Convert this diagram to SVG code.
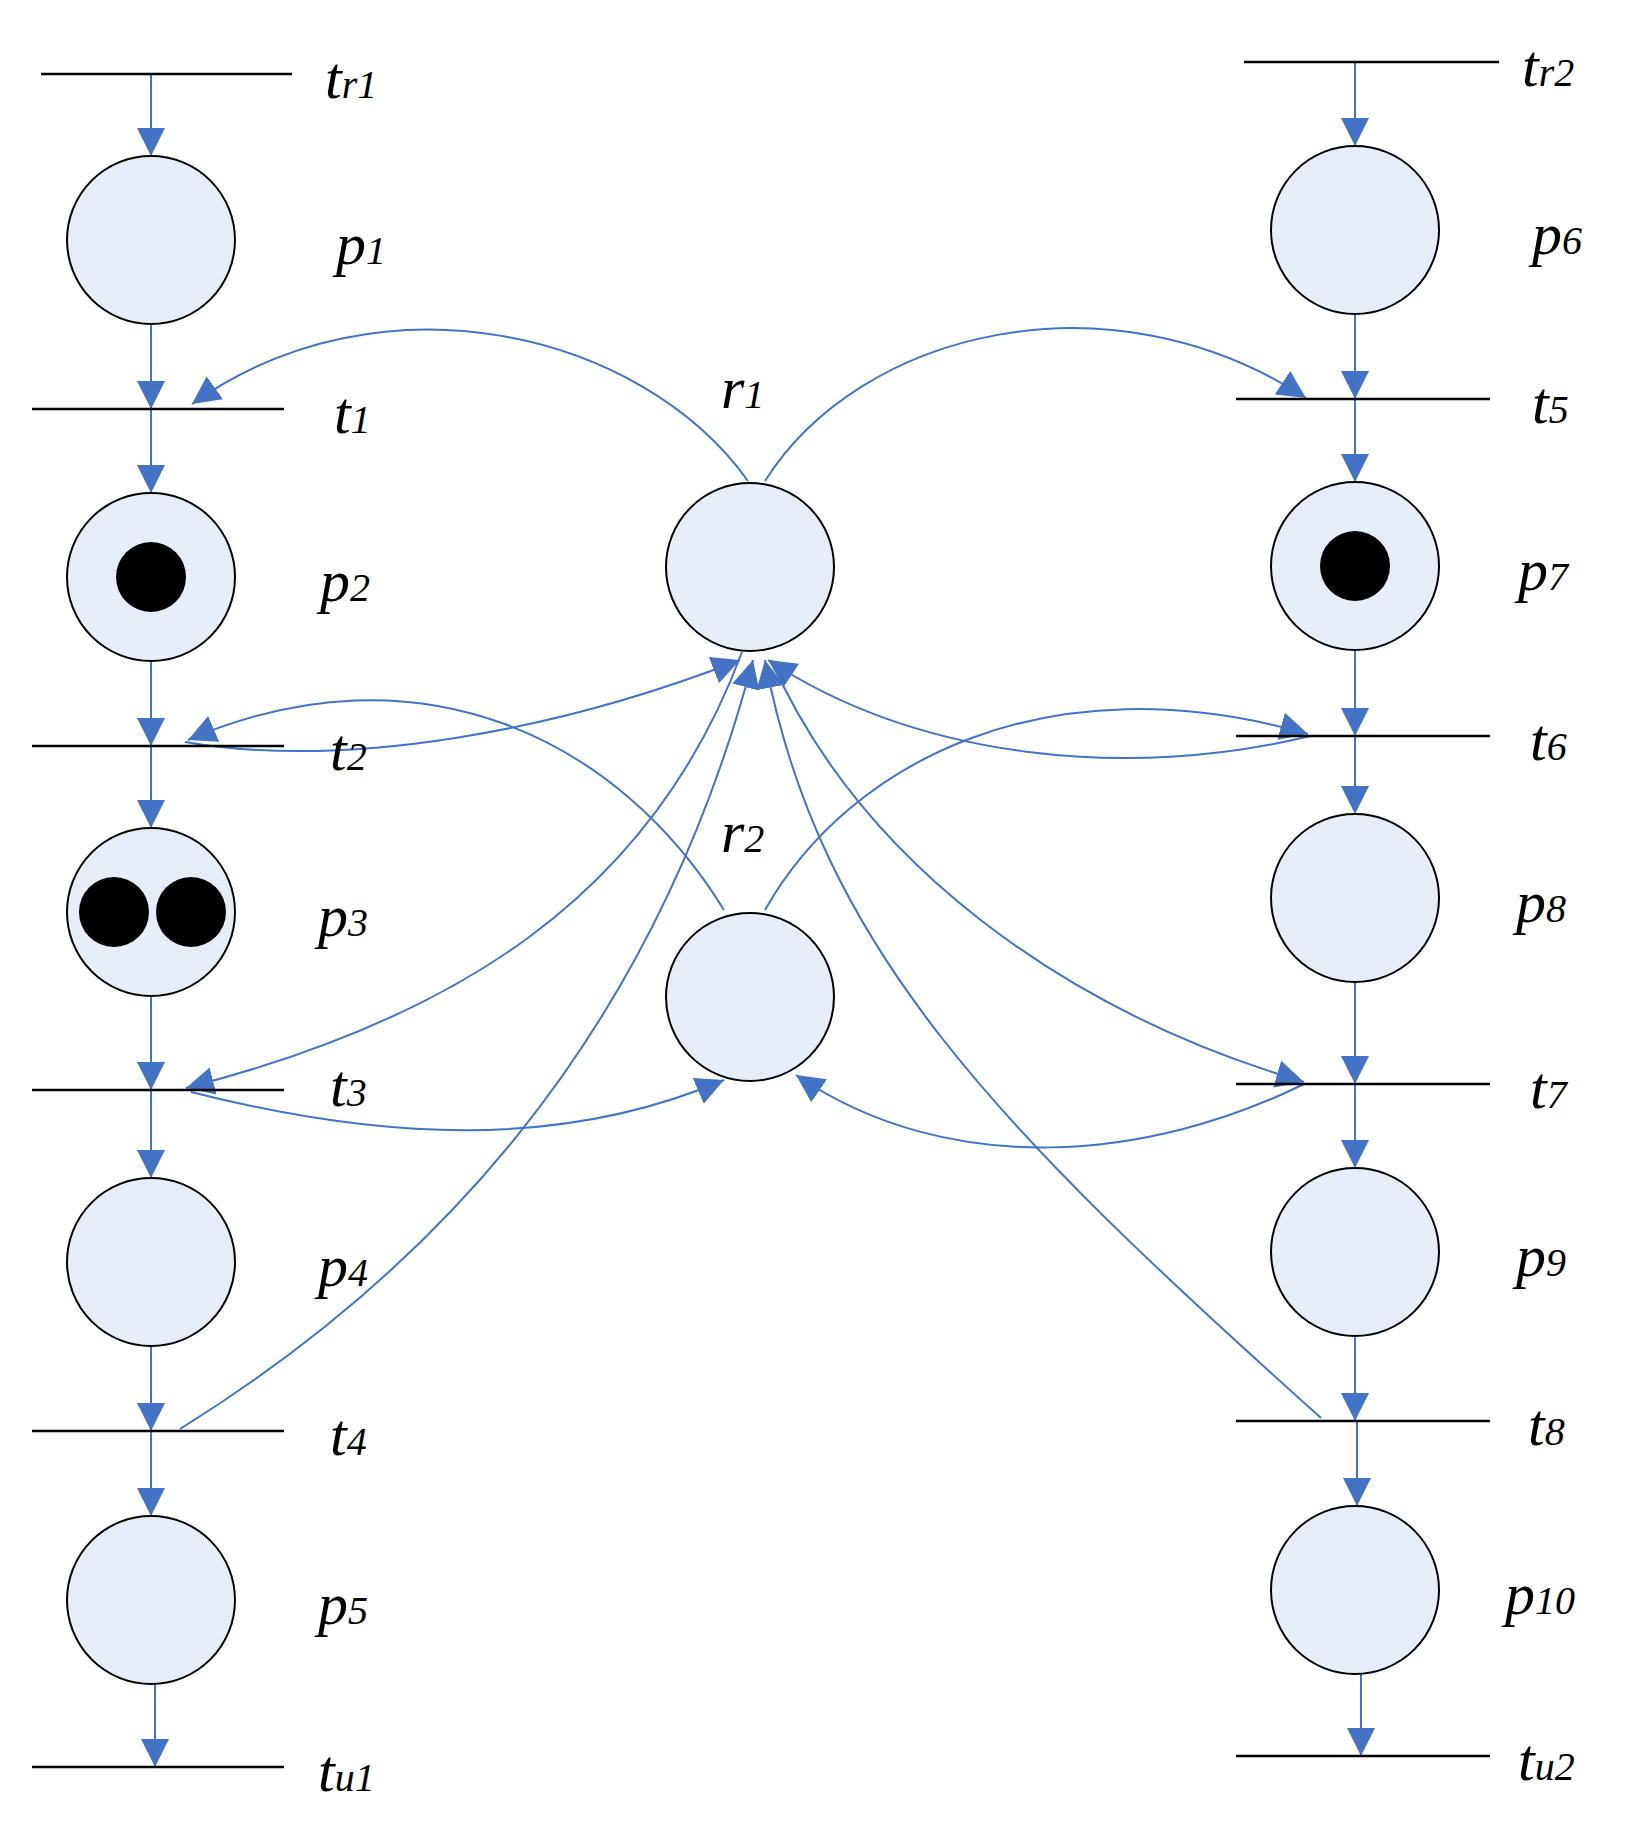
<svg xmlns="http://www.w3.org/2000/svg" width="1637" height="1826" viewBox="0 0 1637 1826">
<style>
.pl{fill:#E6EDF7;stroke:#000;stroke-width:2}
.tr{stroke:#000;stroke-width:2.5}
.tk{fill:#000}
.ar{fill:none;stroke:#4472C4;stroke-width:2;marker-end:url(#ah)}
.lb{font-family:"Liberation Serif",serif;font-style:italic;font-size:60px;fill:#000}
.sb{font-size:40px}
</style>
<defs>
<marker id="ah" viewBox="0 0 28 28" refX="28" refY="14" markerWidth="28" markerHeight="30" markerUnits="userSpaceOnUse" orient="auto">
<path d="M0,0 L28,14 L0,28 z" fill="#4472C4"/>
</marker>
</defs>
<rect width="1637" height="1826" fill="#fff"/>
<g id="connectors">
<path class="ar" d="M151,74 V156"/>
<path class="ar" d="M151,324 V409"/>
<path class="ar" d="M151,409 V493"/>
<path class="ar" d="M151,661 V746"/>
<path class="ar" d="M151,746 V828"/>
<path class="ar" d="M151,996 V1090"/>
<path class="ar" d="M151,1090 V1178"/>
<path class="ar" d="M151,1346 V1431"/>
<path class="ar" d="M151,1431 V1516"/>
<path class="ar" d="M155,1684 V1767"/>
<path class="ar" d="M1355,62 V146"/>
<path class="ar" d="M1355,314 V399"/>
<path class="ar" d="M1355,399 V482"/>
<path class="ar" d="M1355,650 V736"/>
<path class="ar" d="M1355,736 V814"/>
<path class="ar" d="M1355,982 V1084"/>
<path class="ar" d="M1355,1084 V1168"/>
<path class="ar" d="M1355,1336 V1421"/>
<path class="ar" d="M1357,1421 V1506"/>
<path class="ar" d="M1361,1674 V1756"/>
<path class="ar" d="M748,481 C640,330 380,270 192,404"/>
<path class="ar" d="M765,481 C860,330 1110,270 1306,398"/>
<path class="ar" d="M185,742 C350,770 560,730 740,660"/>
<path class="ar" d="M724,910 C620,740 420,640 188,740"/>
<path class="ar" d="M765,910 C850,760 1050,660 1308,734"/>
<path class="ar" d="M1310,736 C1130,780 920,760 768,660"/>
<path class="ar" d="M742,652 C650,900 450,1020 186,1088"/>
<path class="ar" d="M191,1092 C380,1140 560,1150 724,1080"/>
<path class="ar" d="M180,1429 C420,1280 650,1050 753,660"/>
<path class="ar" d="M1321,1418 C1000,1130 820,950 765,660"/>
<path class="ar" d="M771,660 C860,860 1060,1010 1304,1082"/>
<path class="ar" d="M1304,1084 C1150,1160 950,1180 796,1075"/>
</g>
<g id="tr1"><line class="tr" x1="41" y1="74" x2="292" y2="74"/><text class="lb" x="325" y="98">t<tspan class="sb">r1</tspan></text></g>
<g id="p1"><circle class="pl" cx="151" cy="240" r="84"/><text class="lb" x="336" y="264">p<tspan class="sb">1</tspan></text></g>
<g id="t1"><line class="tr" x1="32" y1="409" x2="284" y2="409"/><text class="lb" x="334" y="433">t<tspan class="sb">1</tspan></text></g>
<g id="p2"><circle class="pl" cx="151" cy="577" r="84"/><circle class="tk" cx="151" cy="577" r="35"/><text class="lb" x="320" y="601">p<tspan class="sb">2</tspan></text></g>
<g id="t2"><line class="tr" x1="32" y1="746" x2="284" y2="746"/><text class="lb" x="330" y="770">t<tspan class="sb">2</tspan></text></g>
<g id="p3"><circle class="pl" cx="151" cy="912" r="84"/><circle class="tk" cx="114" cy="912" r="35"/><circle class="tk" cx="191" cy="912" r="35"/><text class="lb" x="318" y="936">p<tspan class="sb">3</tspan></text></g>
<g id="t3"><line class="tr" x1="32" y1="1090" x2="284" y2="1090"/><text class="lb" x="330" y="1106">t<tspan class="sb">3</tspan></text></g>
<g id="p4"><circle class="pl" cx="151" cy="1262" r="84"/><text class="lb" x="318" y="1286">p<tspan class="sb">4</tspan></text></g>
<g id="t4"><line class="tr" x1="32" y1="1431" x2="284" y2="1431"/><text class="lb" x="330" y="1455">t<tspan class="sb">4</tspan></text></g>
<g id="p5"><circle class="pl" cx="151" cy="1600" r="84"/><text class="lb" x="318" y="1624">p<tspan class="sb">5</tspan></text></g>
<g id="tu1"><line class="tr" x1="32" y1="1767" x2="284" y2="1767"/><text class="lb" x="318" y="1791">t<tspan class="sb">u1</tspan></text></g>
<g id="tr2"><line class="tr" x1="1244" y1="62" x2="1499" y2="62"/><text class="lb" x="1522" y="86">t<tspan class="sb">r2</tspan></text></g>
<g id="p6"><circle class="pl" cx="1355" cy="230" r="84"/><text class="lb" x="1532" y="254">p<tspan class="sb">6</tspan></text></g>
<g id="t5"><line class="tr" x1="1236" y1="399" x2="1490" y2="399"/><text class="lb" x="1532" y="423">t<tspan class="sb">5</tspan></text></g>
<g id="p7"><circle class="pl" cx="1355" cy="566" r="84"/><circle class="tk" cx="1355" cy="566" r="35"/><text class="lb" x="1518" y="590">p<tspan class="sb">7</tspan></text></g>
<g id="t6"><line class="tr" x1="1236" y1="736" x2="1490" y2="736"/><text class="lb" x="1530" y="760">t<tspan class="sb">6</tspan></text></g>
<g id="p8"><circle class="pl" cx="1355" cy="898" r="84"/><text class="lb" x="1516" y="922">p<tspan class="sb">8</tspan></text></g>
<g id="t7"><line class="tr" x1="1236" y1="1084" x2="1490" y2="1084"/><text class="lb" x="1530" y="1108">t<tspan class="sb">7</tspan></text></g>
<g id="p9"><circle class="pl" cx="1355" cy="1252" r="84"/><text class="lb" x="1516" y="1276">p<tspan class="sb">9</tspan></text></g>
<g id="t8"><line class="tr" x1="1236" y1="1421" x2="1490" y2="1421"/><text class="lb" x="1528" y="1445">t<tspan class="sb">8</tspan></text></g>
<g id="p10"><circle class="pl" cx="1355" cy="1590" r="84"/><text class="lb" x="1505" y="1614">p<tspan class="sb">10</tspan></text></g>
<g id="tu2"><line class="tr" x1="1236" y1="1756" x2="1490" y2="1756"/><text class="lb" x="1518" y="1780">t<tspan class="sb">u2</tspan></text></g>
<g id="r1"><circle class="pl" cx="750" cy="567" r="84"/><text class="lb" x="721" y="408">r<tspan class="sb">1</tspan></text></g>
<g id="r2"><circle class="pl" cx="750" cy="997" r="84"/><text class="lb" x="721" y="852">r<tspan class="sb">2</tspan></text></g>
</svg>
